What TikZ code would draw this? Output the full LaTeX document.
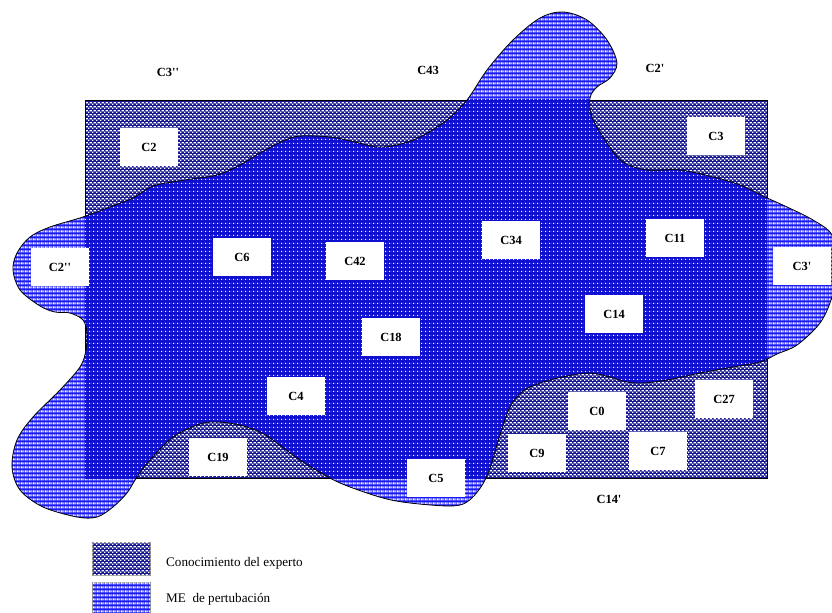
\documentclass[tikz,border=0pt]{standalone}
\usepackage{fontspec}
\setmainfont{Liberation Serif}
\usetikzlibrary{patterns.meta}
\definecolor{navyc}{RGB}{25,25,145}
\definecolor{bluec}{RGB}{25,25,245}
\definecolor{overc}{RGB}{15,15,210}
\tikzdeclarepattern{
  name=expertpat, type=colored,
  bottom left={(0bp,0bp)}, top right={(4bp,4bp)}, tile size={(4bp,4bp)},
  code={
    \fill[white] (0bp,0bp) rectangle (1.6bp,1.6bp);
    \fill[white] (2bp,2bp) rectangle (3.6bp,3.6bp);
  }
}
\tikzdeclarepattern{
  name=mepat, type=colored,
  bottom left={(0bp,0bp)}, top right={(4bp,4bp)}, tile size={(4bp,4bp)},
  code={
    \fill[white] (0.8bp,0.8bp) rectangle (3.2bp,3.2bp);
  }
}
\tikzdeclarepattern{
  name=overpat, type=colored,
  bottom left={(0bp,0bp)}, top right={(4bp,4bp)}, tile size={(4bp,4bp)},
  code={
    \fill[white] (1.45bp,1.45bp) rectangle (2.55bp,2.55bp);
  }
}
\begin{document}
\begin{tikzpicture}[x=1bp,y=-1bp,
  boxlab/.style={fill=white, minimum width=58bp, minimum height=38bp, inner sep=0pt,
    font=\bfseries\fontsize{12.5}{14}\selectfont},
  outlab/.style={inner sep=0pt, font=\bfseries\fontsize{12.5}{14}\selectfont},
  legbox/.style={draw=gray, line width=0.6bp, minimum width=58bp, inner sep=0pt, anchor=north west},
  legtext/.style={anchor=west, inner sep=0pt, font=\fontsize{13.2}{15}\selectfont},
  outline/.style={draw=black, line width=0.8bp}]
\useasboundingbox (0,0) rectangle (832,613);
\def\blobpath{plot[smooth cycle, tension=0.55] coordinates {
(13,270) (17,253) (30,237) (50,227) (83,217) (110,207) (133,198) (153,186) (185,180)
(217,175) (240,165) (260,153) (283,141) (300,136) (330,137) (355,142) (377,147) (397,145)
(420,137) (447,120) (467,100) (487,70) (513,40) (540,18) (563,12) (587,20) (607,40)
(617,63) (610,78) (597,87) (590,98) (592,117) (607,143) (623,162) (647,170) (680,170)
(713,177) (740,185) (765,197) (787,207) (813,220) (832,235) (838,265) (832,297) (820,323)
(797,345) (777,354) (760,362) (733,367) (700,373) (667,380) (643,383) (627,382) (610,377)
(590,373) (567,376) (543,382) (523,391) (510,407) (500,435) (490,468) (481,487) (467,502)
(450,506) (410,503) (383,498) (350,487) (330,478) (300,460) (277,443) (262,433) (240,425)
(217,422) (200,424) (173,437) (150,460) (137,477) (127,493) (113,507) (97,517) (77,517)
(43,507) (20,490) (12,467) (17,440) (33,417) (60,390) (80,367) (86,350) (87,333) (83,320)
(70,313) (55,312) (40,306) (20,290)}}
% rectangle: expert knowledge
\fill[navyc, postaction={pattern=expertpat}] (85,100) rectangle (767,478);
\draw[outline] (85,100) rectangle (767,478);
% blob: ME de perturbacion
\fill[bluec, postaction={pattern=mepat}] \blobpath;
\begin{scope}
  \clip (85,100) rectangle (767,478);
  \fill[overc, postaction={pattern=overpat}] \blobpath;
\end{scope}
\draw[outline] \blobpath;
% boxed labels
\node[boxlab] (c2)  at (149,147) {C2};
\node[boxlab] (c3)  at (716,136) {C3};
\node[boxlab] (c2b) at (60,267)  {C2\textquotesingle\textquotesingle};
\node[boxlab] (c6)  at (242,257) {C6};
\node[boxlab] (c42) at (355,261) {C42};
\node[boxlab] (c34) at (511,240) {C34};
\node[boxlab] (c11) at (675,238) {C11};
\node[boxlab] (c3b) at (802,266) {C3\textquotesingle};
\node[boxlab] (c14) at (614,314) {C14};
\node[boxlab] (c18) at (391,337) {C18};
\node[boxlab] (c4)  at (296,396) {C4};
\node[boxlab] (c0)  at (597,411) {C0};
\node[boxlab] (c27) at (724,399) {C27};
\node[boxlab] (c9)  at (537,453) {C9};
\node[boxlab] (c7)  at (658,451) {C7};
\node[boxlab] (c19) at (218,457) {C19};
\node[boxlab] (c5)  at (436,478) {C5};
% free labels
\node[outlab] (c3pp) at (168,72)  {C3\textquotesingle\textquotesingle};
\node[outlab] (c43)  at (428,70)  {C43};
\node[outlab] (c2p)  at (655,68)  {C2\textquotesingle};
\node[outlab] (c14p) at (609,499) {C14\textquotesingle};
% legend
\node[legbox, minimum height=33bp, fill=navyc, postaction={pattern=expertpat}] (leg1) at (92,542) {};
\node[legbox, minimum height=31bp, fill=bluec, postaction={pattern=mepat}] (leg2) at (92,582) {};
\node[legtext] (leg1t) at (166,563) {Conocimiento del experto};
\node[legtext] (leg2t) at (166,599) {ME\ \ de pertubación};
\end{tikzpicture}
\end{document}
